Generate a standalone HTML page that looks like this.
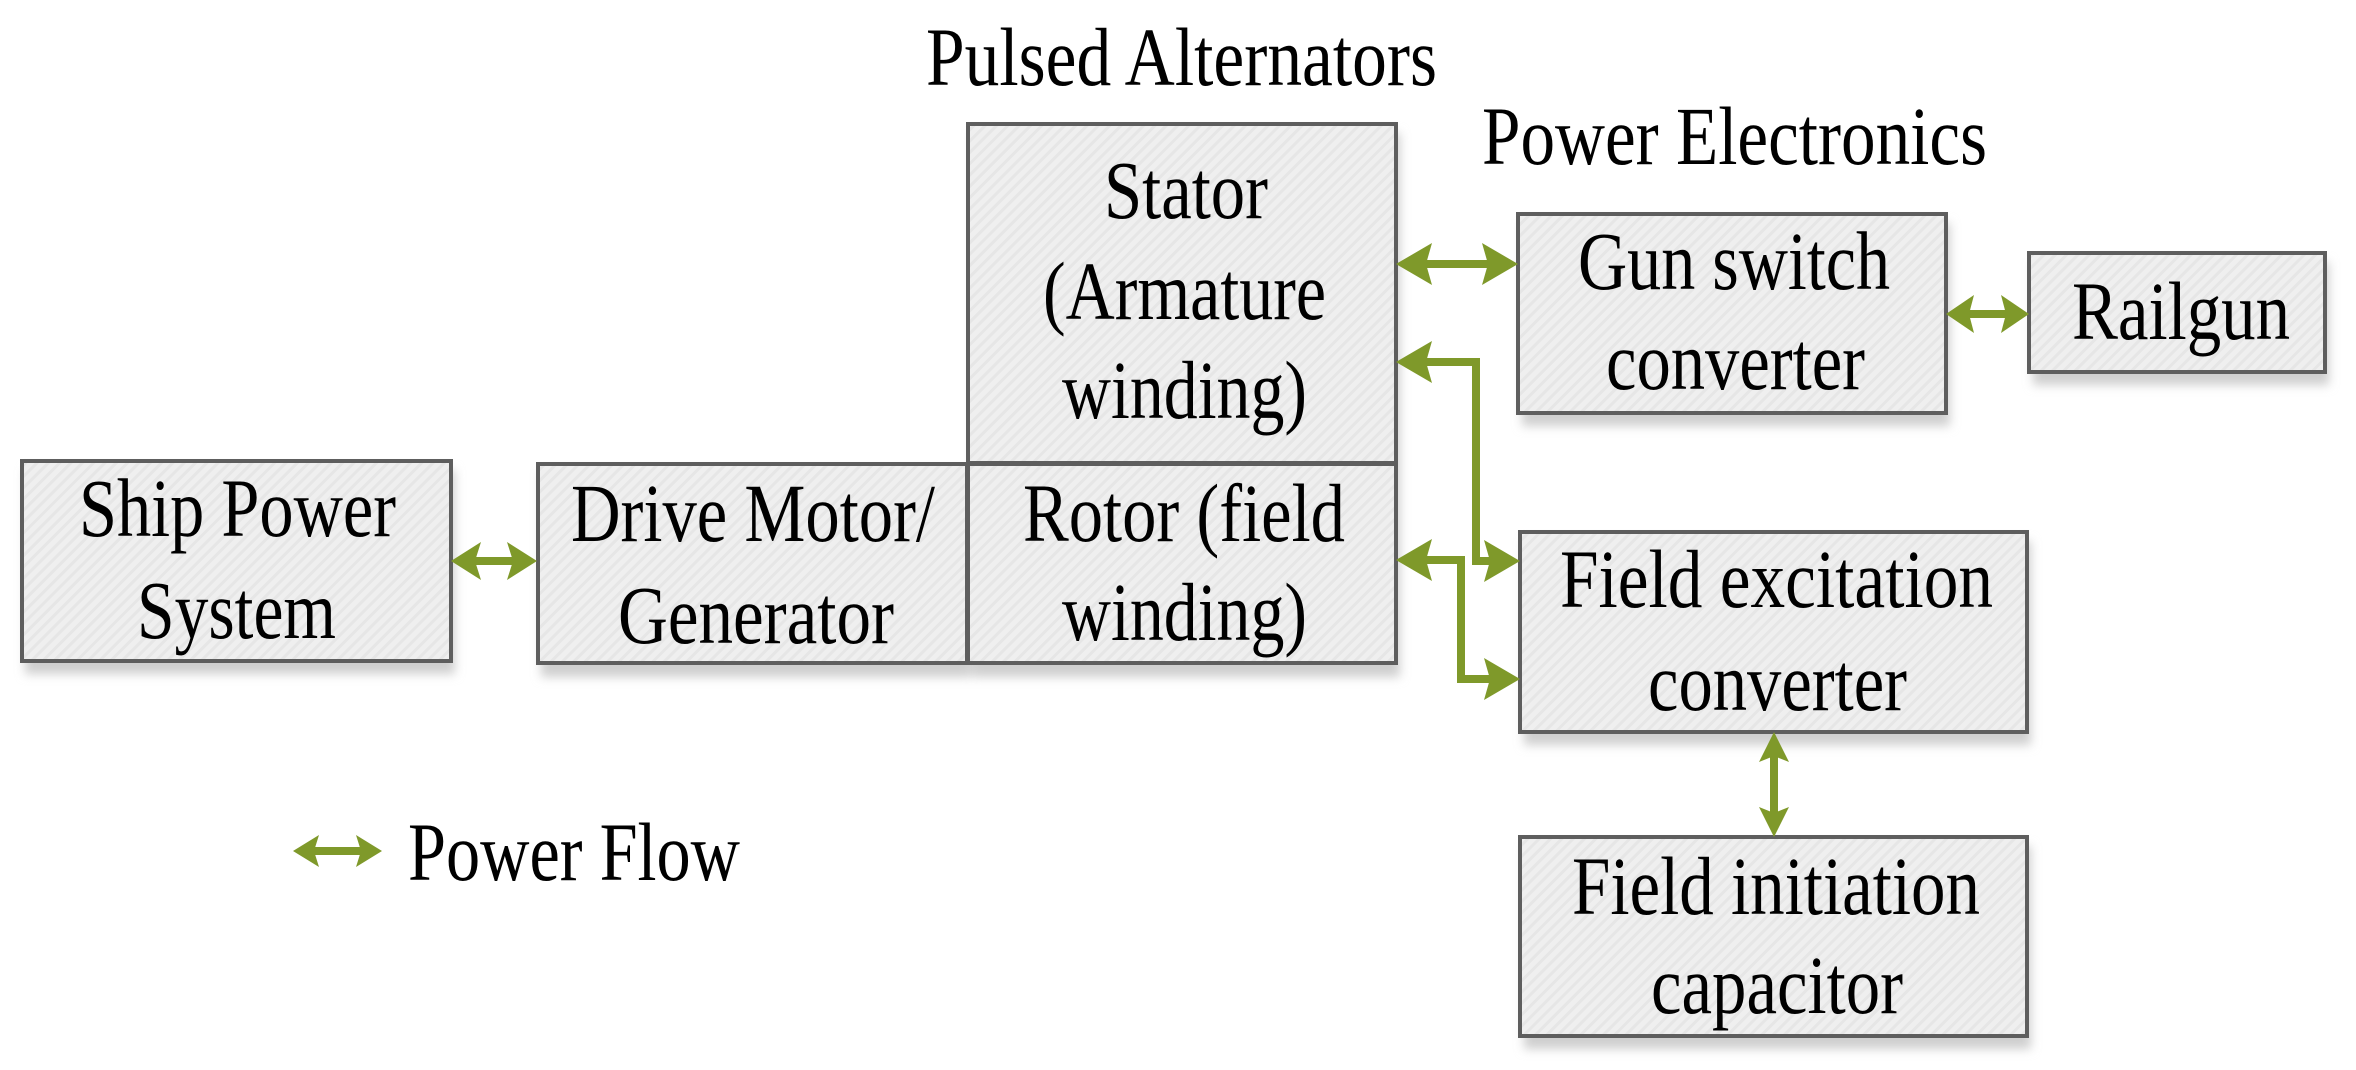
<!DOCTYPE html>
<html><head><meta charset="utf-8"><style>
html,body{margin:0;padding:0;background:#fff;}
svg{display:block;}
text{font-family:"Liberation Serif",serif;font-size:83px;fill:#000;}
</style></head><body>
<svg width="2356" height="1070" viewBox="0 0 2356 1070" xmlns="http://www.w3.org/2000/svg">
<defs>
<pattern id="h" width="8" height="8" patternUnits="userSpaceOnUse" patternTransform="rotate(45)">
<rect width="8" height="8" fill="#efefef"/><rect width="3" height="8" fill="#e6e6e6"/>
</pattern>
<filter id="s" x="-10%" y="-10%" width="120%" height="130%"><feGaussianBlur stdDeviation="5"/></filter>
</defs>
<g fill="#cfcfcf" filter="url(#s)">
<rect x="25" y="470" width="430" height="204"/>
<rect x="541" y="473" width="430" height="204"/>
<rect x="972" y="133" width="428" height="544"/>
<rect x="1522" y="223" width="428" height="203"/>
<rect x="2033" y="262" width="296" height="123"/>
<rect x="1524" y="541" width="507" height="204"/>
<rect x="1524" y="846" width="507" height="203"/>
</g>
<g fill="url(#h)" stroke="#5e5e5e" stroke-width="4">
<rect x="22" y="461" width="429" height="200"/>
<rect x="538" y="464" width="429" height="199"/>
<rect x="968" y="124" width="428" height="339"/>
<rect x="968" y="464" width="428" height="199"/>
<rect x="1518" y="214" width="428" height="199"/>
<rect x="2029" y="253" width="296" height="119"/>
<rect x="1520" y="532" width="507" height="200"/>
<rect x="1520" y="837" width="507" height="199"/>
</g>
<g stroke="#7f992a" stroke-width="8" fill="none">
<line x1="470" y1="561" x2="518" y2="561"/>
<line x1="1420" y1="264" x2="1494" y2="264"/>
<line x1="1966" y1="314" x2="2009" y2="314"/>
<polyline points="1420,362 1476,362 1476,561 1496,561"/>
<polyline points="1420,560 1461,560 1461,679 1496,679"/>
<line x1="1774" y1="754" x2="1774" y2="815"/>
<line x1="313" y1="851" x2="362" y2="851"/>
</g>
<g fill="#7f992a">
<polygon points="451,561 481,542 475,561 481,580"/>
<polygon points="537,561 507,542 513,561 507,580"/>
<polygon points="1396,264 1432,243 1426,264 1432,285"/>
<polygon points="1518,264 1482,243 1488,264 1482,285"/>
<polygon points="1946,314 1974,295 1969,314 1974,333"/>
<polygon points="2029,314 2001,295 2006,314 2001,333"/>
<polygon points="1396,362 1432,341 1426,362 1432,383"/>
<polygon points="1520,561 1484,540 1490,561 1484,582"/>
<polygon points="1396,560 1432,539 1426,560 1432,581"/>
<polygon points="1520,679 1484,658 1490,679 1484,700"/>
<polygon points="1774,732 1759,762 1774,756 1789,762"/>
<polygon points="1774,837 1759,807 1774,813 1789,807"/>
<polygon points="293,851 319,835 314,851 319,867"/>
<polygon points="382,851 356,835 361,851 356,867"/>
</g>
<g lengthAdjust="spacingAndGlyphs">
<text x="926" y="85" textLength="511" lengthAdjust="spacingAndGlyphs">Pulsed Alternators</text>
<text x="1482" y="164" textLength="505" lengthAdjust="spacingAndGlyphs">Power Electronics</text>
<text x="79" y="536" textLength="317" lengthAdjust="spacingAndGlyphs">Ship Power</text>
<text x="137" y="638" textLength="199" lengthAdjust="spacingAndGlyphs">System</text>
<text x="571" y="541" textLength="364" lengthAdjust="spacingAndGlyphs">Drive Motor/</text>
<text x="618" y="643" textLength="276" lengthAdjust="spacingAndGlyphs">Generator</text>
<text x="1104" y="218" textLength="164" lengthAdjust="spacingAndGlyphs">Stator</text>
<text x="1043" y="319" textLength="283" lengthAdjust="spacingAndGlyphs">(Armature</text>
<text x="1062" y="418" textLength="245" lengthAdjust="spacingAndGlyphs">winding)</text>
<text x="1023" y="541" textLength="322" lengthAdjust="spacingAndGlyphs">Rotor (field</text>
<text x="1062" y="640" textLength="245" lengthAdjust="spacingAndGlyphs">winding)</text>
<text x="1578" y="289" textLength="312" lengthAdjust="spacingAndGlyphs">Gun switch</text>
<text x="1606" y="389" textLength="259" lengthAdjust="spacingAndGlyphs">converter</text>
<text x="2072" y="339" textLength="218" lengthAdjust="spacingAndGlyphs">Railgun</text>
<text x="1560" y="607" textLength="433" lengthAdjust="spacingAndGlyphs">Field excitation</text>
<text x="1648" y="710" textLength="259" lengthAdjust="spacingAndGlyphs">converter</text>
<text x="1572" y="914" textLength="408" lengthAdjust="spacingAndGlyphs">Field initiation</text>
<text x="1651" y="1013" textLength="252" lengthAdjust="spacingAndGlyphs">capacitor</text>
<text x="408" y="880" textLength="332" lengthAdjust="spacingAndGlyphs">Power Flow</text>
</g>
</svg>
</body></html>
